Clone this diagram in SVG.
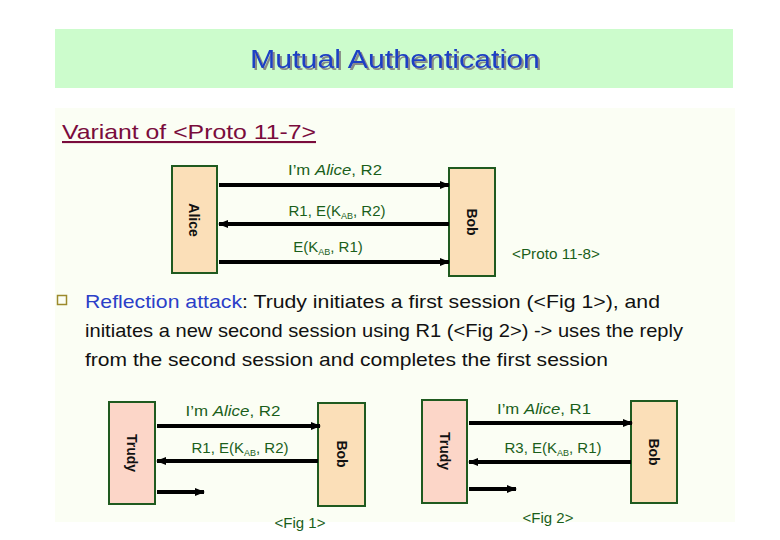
<svg xmlns="http://www.w3.org/2000/svg" width="780" height="540" viewBox="0 0 780 540">
<style>
  text { font-family: "Liberation Sans", Arial, sans-serif; }
  .box { stroke: #1f5a1f; stroke-width: 2; }
  .peach { fill: #fbdfb8; }
  .pink { fill: #fcd6c8; }
  .who { font-size: 14px; font-weight: bold; fill: #111; text-anchor: middle; }
  .msg { font-size: 15px; fill: #1a5e1a; text-anchor: middle; }
  .sub { font-size: 9px; }
  .arr { stroke: #000; stroke-width: 4; fill: none; marker-end: url(#ah); }
  .body { font-size: 19px; fill: #111; }
</style>
<defs>
  <marker id="ah" markerUnits="userSpaceOnUse" markerWidth="10" markerHeight="10" viewBox="0 0 10 10" refX="9" refY="5" orient="auto">
    <path d="M0,1 L10,5 L0,9 z" fill="#000"/>
  </marker>
  <filter id="shadow" x="-5%" y="-20%" width="110%" height="140%">
    <feDropShadow dx="2" dy="2" stdDeviation="0.4" flood-color="#7f7f7f" flood-opacity="0.9"/>
  </filter>
</defs>
<rect x="0" y="0" width="780" height="540" fill="#ffffff"/>
<rect x="55" y="108" width="680" height="414" fill="#fbfef4"/>
<rect x="55" y="29" width="678" height="59" fill="#ccfccc"/>
<text x="395" y="68" font-size="26" fill="#1d3fc4" text-anchor="middle" textLength="290" lengthAdjust="spacingAndGlyphs" filter="url(#shadow)">Mutual Authentication</text>

<text x="62" y="139" font-size="21" fill="#7a0c3c" text-decoration="underline" textLength="254" lengthAdjust="spacingAndGlyphs">Variant of &lt;Proto 11-7&gt;</text>

<g id="alice">
  <rect class="box peach" x="172" y="166" width="45" height="107"/>
  <text class="who" transform="translate(189,220) rotate(90)">Alice</text>
</g>
<g id="bob-proto">
  <rect class="box peach" x="449" y="168" width="46" height="108"/>
  <text class="who" transform="translate(467,222) rotate(90)">Bob</text>
</g>
<text class="msg" x="512" y="259" style="text-anchor:start" textLength="88" lengthAdjust="spacingAndGlyphs">&lt;Proto 11-8&gt;</text>

<g id="trudy1">
  <rect class="box pink" x="109" y="402" width="46" height="102"/>
  <text class="who" transform="translate(127,453) rotate(90)">Trudy</text>
</g>
<g id="bob1">
  <rect class="box peach" x="318" y="403" width="47" height="103"/>
  <text class="who" transform="translate(337,454) rotate(90)">Bob</text>
</g>
<g id="trudy2">
  <rect class="box pink" x="422" y="400" width="45" height="103"/>
  <text class="who" transform="translate(440,451) rotate(90)">Trudy</text>
</g>
<g id="bob2">
  <rect class="box peach" x="631" y="401" width="46" height="102"/>
  <text class="who" transform="translate(649,452) rotate(90)">Bob</text>
</g>

<g id="connectors">
  <line class="arr" x1="219" y1="185" x2="449" y2="185"/>
  <line class="arr" x1="449" y1="224" x2="219" y2="224"/>
  <line class="arr" x1="219" y1="262" x2="449" y2="262"/>

  <line class="arr" x1="157" y1="426" x2="320" y2="426"/>
  <line class="arr" x1="318" y1="461" x2="157" y2="461"/>
  <line class="arr" x1="157" y1="492" x2="204" y2="492"/>

  <line class="arr" x1="469" y1="423" x2="632" y2="423"/>
  <line class="arr" x1="631" y1="462" x2="469" y2="462"/>
  <line class="arr" x1="469" y1="489" x2="516" y2="489"/>
</g>

<g id="labels">
  <text class="msg" x="335" y="175" textLength="94" lengthAdjust="spacingAndGlyphs">I’m <tspan font-style="italic">Alice</tspan>, R2</text>
  <text class="msg" x="337" y="216">R1, E(K<tspan class="sub" dy="3">AB</tspan><tspan dy="-3">, R2)</tspan></text>
  <text class="msg" x="328" y="252">E(K<tspan class="sub" dy="3">AB</tspan><tspan dy="-3">, R1)</tspan></text>

  <text class="msg" x="233" y="416" textLength="95" lengthAdjust="spacingAndGlyphs">I’m <tspan font-style="italic">Alice</tspan>, R2</text>
  <text class="msg" x="240" y="453">R1, E(K<tspan class="sub" dy="3">AB</tspan><tspan dy="-3">, R2)</tspan></text>
  <text class="msg" x="300" y="528">&lt;Fig 1&gt;</text>

  <text class="msg" x="544" y="414" textLength="94" lengthAdjust="spacingAndGlyphs">I’m <tspan font-style="italic">Alice</tspan>, R1</text>
  <text class="msg" x="553" y="453">R3, E(K<tspan class="sub" dy="3">AB</tspan><tspan dy="-3">, R1)</tspan></text>
  <text class="msg" x="548" y="523">&lt;Fig 2&gt;</text>
</g>

<rect x="57.5" y="295.5" width="9" height="9" fill="none" stroke="#9c8a2c" stroke-width="1.5"/>
<text class="body" x="85" y="308" textLength="575" lengthAdjust="spacingAndGlyphs"><tspan fill="#2b3fc8">Reflection attack</tspan>: Trudy initiates a first session (&lt;Fig 1&gt;), and</text>
<text class="body" x="85" y="337" textLength="598" lengthAdjust="spacingAndGlyphs">initiates a new second session using R1 (&lt;Fig 2&gt;) -&gt; uses the reply</text>
<text class="body" x="85" y="366" textLength="523" lengthAdjust="spacingAndGlyphs">from the second session and completes the first session</text>
</svg>
